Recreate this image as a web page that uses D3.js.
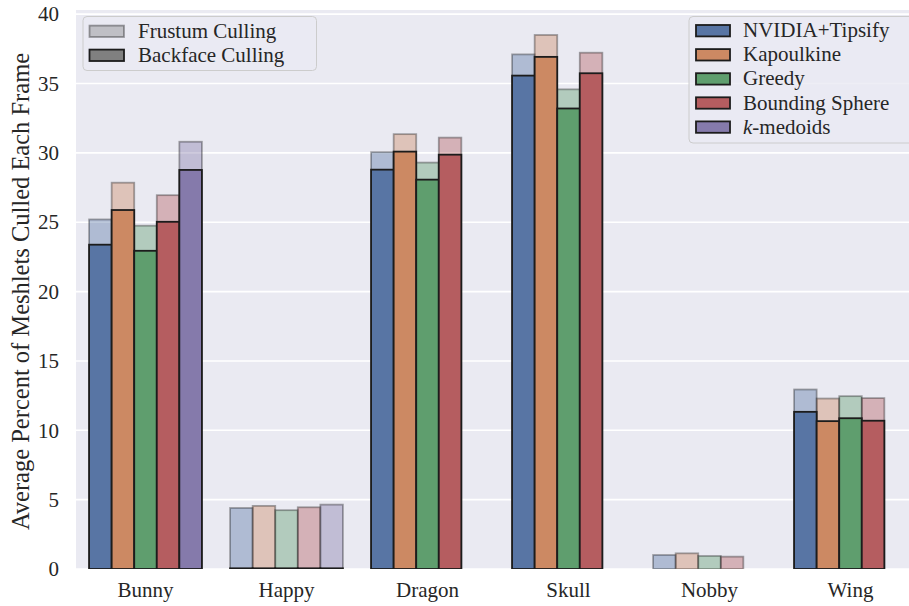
<!DOCTYPE html>
<html>
<head>
<meta charset="utf-8">
<script src="https://cdn.jsdelivr.net/npm/d3@7"></script>
<style>
  html, body { margin: 0; padding: 0; background: #fff; }
  svg { display: block; }
  text { font-family: "Liberation Serif", "Times New Roman", serif; fill: #262626; }
</style>
</head>
<body>
<svg id="chart" width="909" height="606"></svg>
<script>
// Meshes and clustering methods
const categories = ["Bunny", "Happy", "Dragon", "Skull", "Nobby", "Wing"];
const methods = ["NVIDIA+Tipsify", "Kapoulkine", "Greedy", "Bounding Sphere", "k-medoids"];

// Percent culled with frustum + backface culling (lighter bars), per method
const frustumNvidia = [25.2, 4.40, 30.05, 37.1, 1.01, 12.94];
const frustumKapoulkine = [27.85, 4.55, 31.35, 38.5, 1.13, 12.29];
const frustumGreedy = [24.75, 4.24, 29.3, 34.58, 0.94, 12.46];
const frustumSphere = [26.95, 4.45, 31.1, 37.22, 0.89, 12.32];
const frustumKmedoids = [30.8, 4.64, null, null, null, null];

// Percent culled with backface culling only (darker bars), per method
const backfaceNvidia = [23.38, 0.05, 28.79, 35.57, 0, 11.33];
const backfaceKapoulkine = [25.88, 0.05, 30.09, 36.92, 0, 10.66];
const backfaceGreedy = [22.94, 0.05, 28.07, 33.2, 0, 10.87];
const backfaceSphere = [25.03, 0.05, 29.87, 35.74, 0, 10.69];
const backfaceKmedoids = [28.77, 0.05, null, null, null, null];

const yTicks = [0, 5, 10, 15, 20, 25, 30, 35, 40];

const frustumSeries = [frustumNvidia, frustumKapoulkine, frustumGreedy, frustumSphere, frustumKmedoids];
const backfaceSeries = [backfaceNvidia, backfaceKapoulkine, backfaceGreedy, backfaceSphere, backfaceKmedoids];
const colors = ["#5875a4", "#cc8963", "#5f9e6e", "#b55d60", "#857aab"];

const svg = d3.select("#chart");
const bg = "#eaeaf2";

const margin = { left: 76, top: 10, bottom: 569 };
const x = d3.scaleBand().domain(categories).range([75, 921]).paddingInner(0).paddingOuter(0);
const y = d3.scaleLinear().domain([0, 40.3]).range([569, 10]);
const hue = d3.scaleBand().domain(methods).range([0, x.bandwidth() * 0.8]);

// plotting area
svg.append("rect").attr("x", margin.left).attr("y", margin.top)
  .attr("width", 909 - margin.left + 20).attr("height", margin.bottom - margin.top)
  .attr("fill", bg);

// horizontal grid
svg.append("g").selectAll("line").data(yTicks).join("line")
  .attr("x1", margin.left).attr("x2", 930)
  .attr("y1", d => y(d)).attr("y2", d => y(d))
  .attr("stroke", "#fff").attr("stroke-width", 1.6);

const bars = svg.append("g");
const bw = hue.bandwidth();

// lighter bars: frustum culling totals
methods.forEach((m, i) => {
  const pts = categories.map((c, j) => ({ c, v: frustumSeries[i][j] })).filter(d => d.v !== null);
  bars.append("g").selectAll("rect").data(pts).join("rect")
    .attr("x", d => x(d.c) + x.bandwidth() * 0.1 + hue(m))
    .attr("width", bw)
    .attr("y", d => y(d.v))
    .attr("height", d => y(0) - y(d.v))
    .attr("fill", colors[i]).attr("fill-opacity", 0.4)
    .attr("stroke", "#000").attr("stroke-opacity", 0.33).attr("stroke-width", 1.8);
});

// darker bars: backface culling
methods.forEach((m, i) => {
  const pts = categories.map((c, j) => ({ c, v: backfaceSeries[i][j] })).filter(d => d.v !== null && d.v > 0);
  bars.append("g").selectAll("rect").data(pts).join("rect")
    .attr("x", d => x(d.c) + x.bandwidth() * 0.1 + hue(m))
    .attr("width", bw)
    .attr("y", d => y(d.v))
    .attr("height", d => y(0) - y(d.v))
    .attr("fill", colors[i])
    .attr("stroke", "#1c1c1c").attr("stroke-width", 1.8);
});

// trim bar outlines below the baseline
svg.append("rect").attr("x", margin.left).attr("y", margin.bottom).attr("width", 909).attr("height", 3).attr("fill", "#fff");

// y axis labels
const yAxis = d3.axisLeft(y).tickValues(yTicks).tickSize(0).tickPadding(17);
const gy = svg.append("g").attr("transform", `translate(${margin.left},0)`).call(yAxis);
gy.select(".domain").remove();
gy.selectAll("text").attr("font-size", 21).attr("font-family", "Liberation Serif").attr("fill", "#262626");

// x axis labels
const xAxis = d3.axisBottom(x).tickSize(0).tickPadding(13);
const gx = svg.append("g").attr("transform", `translate(0,${margin.bottom})`).call(xAxis);
gx.select(".domain").remove();
gx.selectAll("text").attr("font-size", 21).attr("font-family", "Liberation Serif").attr("fill", "#262626");

// y axis title
svg.append("text")
  .attr("transform", `translate(29,${(margin.top + margin.bottom) / 2 + 2}) rotate(-90)`)
  .attr("text-anchor", "middle").attr("font-size", 24.5)
  .text("Average Percent of Meshlets Culled Each Frame");

// legend: culling type
const leg1 = svg.append("g");
leg1.append("rect").attr("x", 83).attr("y", 16.5).attr("width", 233.5).attr("height", 54)
  .attr("rx", 4).attr("fill", bg).attr("fill-opacity", 0.8).attr("stroke", "#cccccc").attr("stroke-width", 1);
const cullTypes = [
  { label: "Frustum Culling", fill: "#808080", fo: 0.4, stroke: "#000", so: 0.35 },
  { label: "Backface Culling", fill: "#808080", fo: 1, stroke: "#1c1c1c", so: 1 }
];
cullTypes.forEach((d, i) => {
  const cy = 31.3 + i * 24;
  leg1.append("rect").attr("x", 89.5).attr("y", cy - 5.7).attr("width", 34.5).attr("height", 11.4)
    .attr("fill", d.fill).attr("fill-opacity", d.fo)
    .attr("stroke", d.stroke).attr("stroke-opacity", d.so).attr("stroke-width", 1.8);
  leg1.append("text").attr("x", 138).attr("y", cy + 6.5).attr("font-size", 21).text(d.label);
});

// legend: methods
const leg2 = svg.append("g");
leg2.append("rect").attr("x", 689).attr("y", 16.5).attr("width", 230).attr("height", 126.5)
  .attr("rx", 4).attr("fill", bg).attr("fill-opacity", 0.8).attr("stroke", "#cccccc").attr("stroke-width", 1);
methods.forEach((m, i) => {
  const cy = 30.7 + i * 24.1;
  leg2.append("rect").attr("x", 696).attr("y", cy - 5.7).attr("width", 34).attr("height", 11.4)
    .attr("fill", colors[i]).attr("stroke", "#1c1c1c").attr("stroke-width", 1.8);
  const t = leg2.append("text").attr("x", 743).attr("y", cy + 6.5).attr("font-size", 21);
  if (m === "k-medoids") {
    t.append("tspan").attr("font-style", "italic").text("k");
    t.append("tspan").text("-medoids");
  } else {
    t.text(m);
  }
});
</script>
</body>
</html>
